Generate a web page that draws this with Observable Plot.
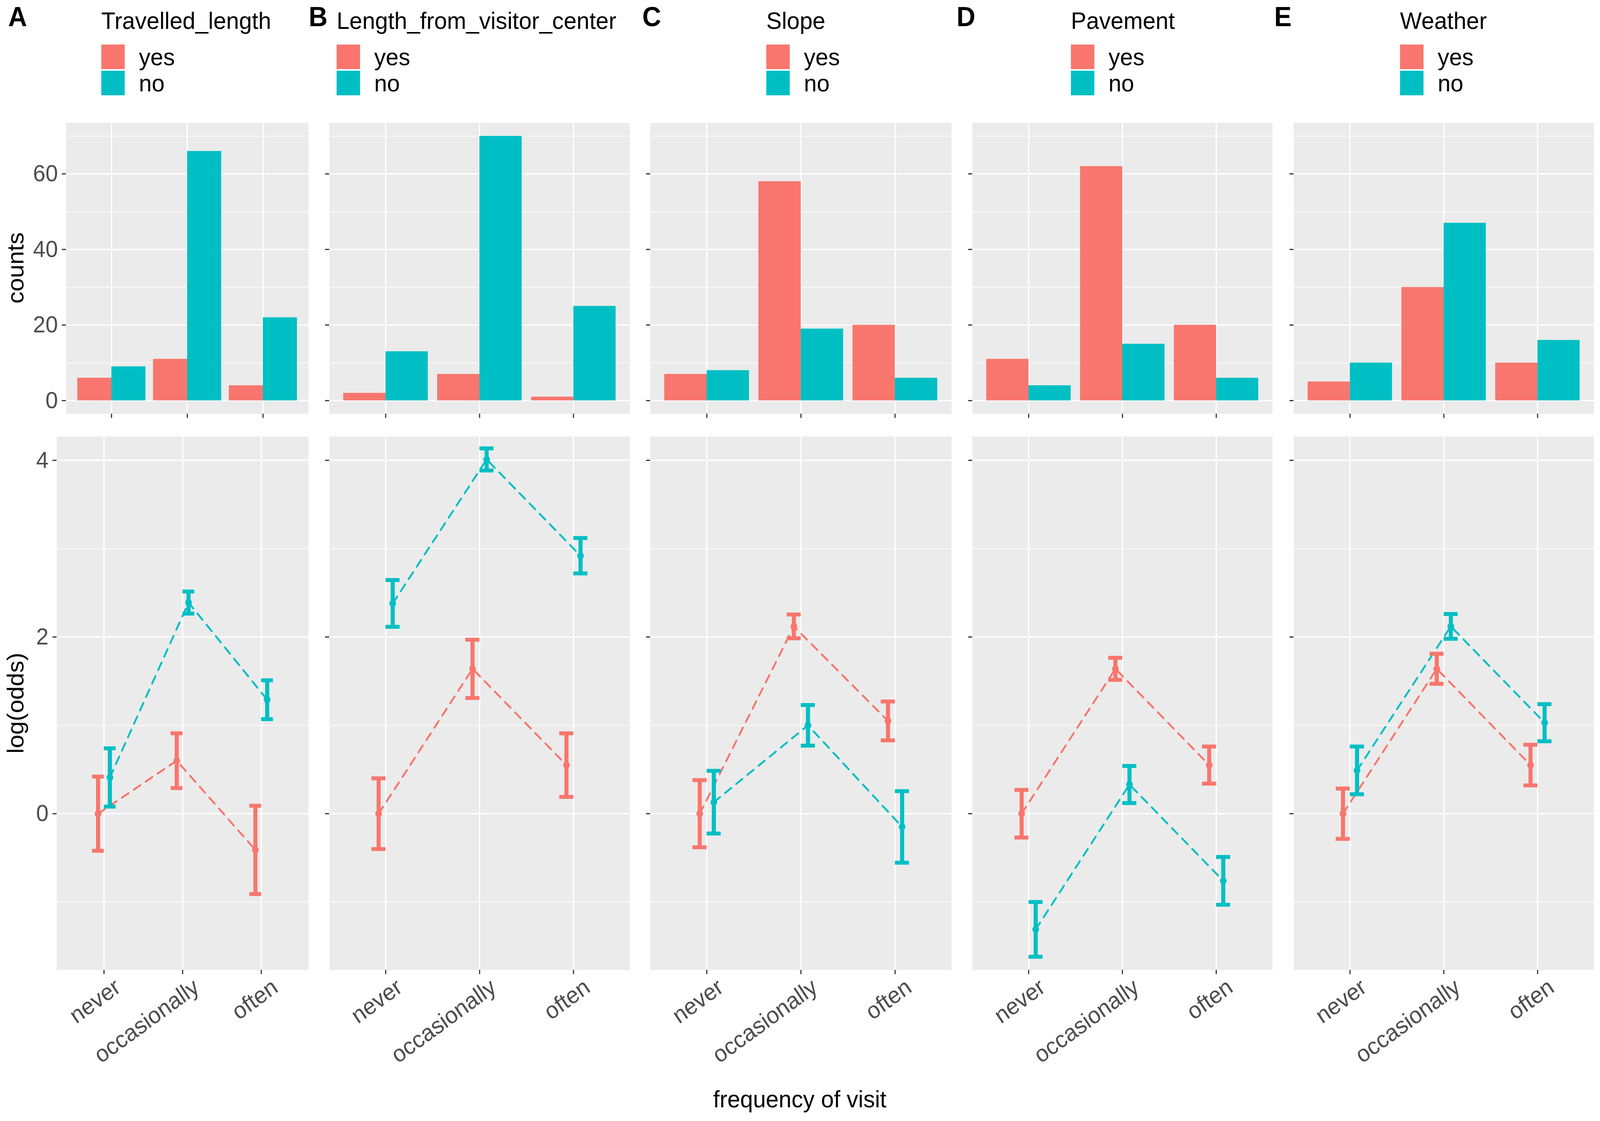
<!DOCTYPE html>
<html><head><meta charset="utf-8">
<script src="https://cdn.jsdelivr.net/npm/d3@7"></script>
<script src="https://cdn.jsdelivr.net/npm/@observablehq/plot@0.6"></script>
<style>
html,body{margin:0;padding:0;background:#fff;overflow:hidden;}
#root{position:relative;width:4297px;height:2870px;background:#fff;font-family:"Liberation Sans",Arial,sans-serif;overflow:hidden;transform-origin:0 0;}
.abs{position:absolute;white-space:nowrap;line-height:1;}
</style></head><body><div id="root"></div>
<script>
// ---------- data ----------
const categories = ["never", "occasionally", "often"];
const groups = ["yes", "no"];
const panelTitles = ["Travelled_length", "Length_from_visitor_center", "Slope", "Pavement", "Weather"];
const panelLetters = ["A", "B", "C", "D", "E"];
const countsYes = [[6, 11, 4], [2, 7, 1], [7, 58, 20], [11, 62, 20], [5, 30, 10]];
const countsNo  = [[9, 66, 22], [13, 70, 25], [8, 19, 6], [4, 15, 6], [10, 47, 16]];
const logOddsYes = [[0, 0.60, -0.41], [0, 1.64, 0.55], [0, 2.12, 1.05], [0, 1.64, 0.55], [0, 1.64, 0.55]];
const errYes     = [[0.42, 0.31, 0.50], [0.40, 0.33, 0.36], [0.38, 0.135, 0.22], [0.27, 0.125, 0.21], [0.285, 0.17, 0.23]];
const logOddsNo  = [[0.41, 2.39, 1.29], [2.38, 4.01, 2.92], [0.13, 1.00, -0.15], [-1.31, 0.33, -0.76], [0.49, 2.12, 1.03]];
const errNo      = [[0.33, 0.125, 0.22], [0.265, 0.125, 0.20], [0.355, 0.23, 0.405], [0.31, 0.21, 0.27], [0.27, 0.14, 0.21]];
const countTicks = [0, 20, 40, 60];
const countMinor = [10, 30, 50, 70];
const oddsTicks = [0, 2, 4];
const oddsMinor = [-1, 1, 3];
const colors = ["#F8766D", "#00BFC4"];

// ---------- layout ----------
const W = 4297, H = 2870;
const root = document.getElementById("root");
const TOP = {y: 314, h: 745, domain: [-3.5, 73.5]};
const BOT = {y: 1117, h: 1366, domain: [-1.77, 4.27]};
const panelX = [[177, 828], [884, 1691], [1746, 2555], [2611, 3417], [3474, 4280]];
const botLeftA = 152;
const legendX = [272, 904, 2058, 2876, 3760];
const letterX = [22, 829, 1725, 2569, 3422];
const FONT = "Liberation Sans, Arial, sans-serif";

// fill the browser viewport with the 4297x2870 figure
function fit() {
  const sx = window.innerWidth / W, sy = window.innerHeight / H;
  if (sx > 0 && sy > 0 && (Math.abs(sx - 1) > 0.002 || Math.abs(sy - 1) > 0.002)) {
    root.style.transform = `scale(${sx}, ${sy})`;
  } else {
    root.style.transform = "none";
  }
}
fit();
window.addEventListener("resize", fit);

function addDiv(text, css) {
  const d = document.createElement("div");
  d.className = "abs";
  d.textContent = text;
  Object.assign(d.style, css);
  root.appendChild(d);
  return d;
}

function makePanel(i, isTop) {
  const x0 = isTop ? panelX[i][0] : (i === 0 ? botLeftA : panelX[i][0]);
  const x1 = panelX[i][1];
  const P = isTop ? TOP : BOT;
  const mL = i === 0 ? x0 : 24;
  const mB = isTop ? 30 : 360;
  const major = isTop ? countTicks : oddsTicks;
  const minor = isTop ? countMinor : oddsMinor;
  const marks = [
    Plot.frame({fill: "#EBEBEB", stroke: "none"}),
    Plot.ruleY(minor, {stroke: "#fff", strokeWidth: 1.7}),
    Plot.ruleY(major, {stroke: "#fff", strokeWidth: 3.4}),
    Plot.ruleX([1, 2, 3], {stroke: "#fff", strokeWidth: 3.4}),
    Plot.axisX({ticks: [1, 2, 3], tickFormat: () => "", tickSize: 11, stroke: "#333", strokeWidth: 3, label: null}),
    Plot.axisY({ticks: major, tickFormat: i === 0 ? (d => String(d)) : (() => ""), tickSize: 11, tickPadding: 11,
      stroke: "#333", fill: "#4D4D4D", strokeWidth: 3, fontSize: 60, label: null})
  ];
  if (isTop) {
    const rows = [];
    categories.forEach((c, k) => {
      rows.push({pos: k + 1, g: "yes", count: countsYes[i][k]});
      rows.push({pos: k + 1, g: "no", count: countsNo[i][k]});
    });
    marks.push(Plot.rect(rows, {
      x1: d => d.g === "yes" ? d.pos - 0.45 : d.pos,
      x2: d => d.g === "yes" ? d.pos : d.pos + 0.45,
      y1: 0, y2: "count", fill: "g"
    }));
  } else {
    const rows = [];
    groups.forEach((g, gi) => {
      const v = gi === 0 ? logOddsYes[i] : logOddsNo[i];
      const e = gi === 0 ? errYes[i] : errNo[i];
      categories.forEach((c, k) => {
        rows.push({pos: k + 1 + (gi === 0 ? -0.075 : 0.075), g, v: v[k], lo: v[k] - e[k], hi: v[k] + e[k]});
      });
    });
    marks.push(
      Plot.line(rows, {x: "pos", y: "v", stroke: "g", z: "g", strokeWidth: 5, strokeDasharray: "21,17"}),
      Plot.ruleX(rows, {x: "pos", y1: "lo", y2: "hi", stroke: "g", strokeWidth: 11}),
      Plot.ruleY(rows, {y: "hi", x1: d => d.pos - 0.075, x2: d => d.pos + 0.075, stroke: "g", strokeWidth: 10}),
      Plot.ruleY(rows, {y: "lo", x1: d => d.pos - 0.075, x2: d => d.pos + 0.075, stroke: "g", strokeWidth: 10}),
      Plot.dot(rows, {x: "pos", y: "v", fill: "g", r: 9}),
      Plot.text(categories, {x: (d, k) => k + 1, text: d => d, frameAnchor: "bottom", rotate: -35,
        textAnchor: "end", lineAnchor: "top", dx: 24, dy: 18, fontSize: 60, fill: "#4D4D4D"})
    );
  }
  const svg = Plot.plot({
    width: (x1 - x0) + mL,
    height: P.h + mB,
    marginLeft: mL, marginRight: 0, marginTop: 0, marginBottom: mB,
    x: {domain: [0.4, 3.6]},
    y: {domain: P.domain},
    color: {domain: groups, range: colors},
    style: {fontFamily: FONT, background: "transparent", overflow: "visible"},
    marks
  });
  svg.style.position = "absolute";
  svg.style.left = (x0 - mL) + "px";
  svg.style.top = P.y + "px";
  root.appendChild(svg);
}

for (let i = 0; i < 5; i++) {
  makePanel(i, true);
  makePanel(i, false);
  addDiv(panelLetters[i], {left: letterX[i] + "px", top: "8px", fontSize: "70px", fontWeight: "bold", color: "#000"});
  addDiv(panelTitles[i], {left: legendX[i] + "px", top: "22px", fontSize: "62px", color: "#000"});
  groups.forEach((g, gi) => {
    const top = 114 + gi * 67;
    const key = document.createElement("div");
    Object.assign(key.style, {position: "absolute", left: legendX[i] + "px", top: top + "px", width: "63px", height: "63px", background: colors[gi]});
    root.appendChild(key);
    addDiv(g, {left: (legendX[i] + 101) + "px", top: top + "px", fontSize: "62px", lineHeight: "63px", color: "#000"});
  });
}

addDiv("counts", {left: "42px", top: "686px", fontSize: "62px", color: "#000", transform: "translate(-50%,-50%) rotate(-90deg)"});
addDiv("log(odds)", {left: "42px", top: "1800px", fontSize: "62px", color: "#000", transform: "translate(-50%,-50%) rotate(-90deg)"});
addDiv("frequency of visit", {left: "2148px", top: "2783px", fontSize: "62px", color: "#000", transform: "translateX(-50%)"});
</script></body></html>
